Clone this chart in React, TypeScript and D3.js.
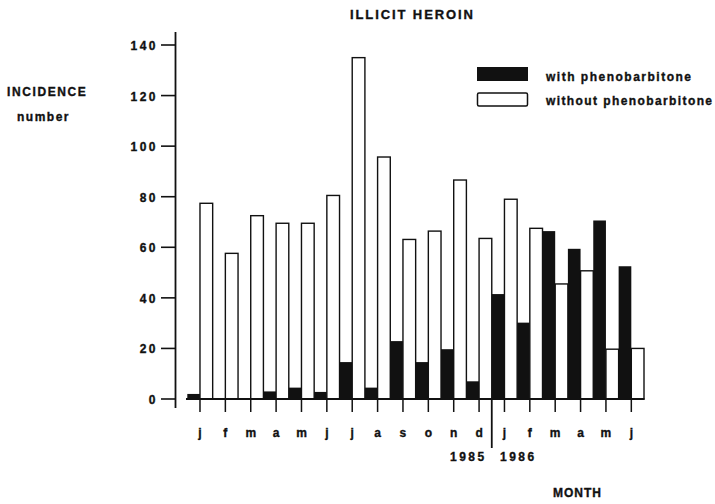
import React from "react";
import * as d3 from "d3";

// Monthly incidence, Jan 1985 – Jun 1986
const months = ["j", "f", "m", "a", "m", "j", "j", "a", "s", "o", "n", "d", "j", "f", "m", "a", "m", "j"];
const withPheno = [2, 0, 0, 3, 4.5, 2.8, 14.6, 4.5, 22.9, 14.6, 19.7, 7, 41.5, 30.2, 66.4, 59.4, 70.6, 52.5];
const withoutPheno = [77.4, 57.6, 72.5, 69.5, 69.5, 80.5, 135, 95.7, 63.1, 66.4, 86.6, 63.5, 79, 67.5, 45.5, 50.7, 19.7, 20];
const yTicks = [0, 20, 40, 60, 80, 100, 120, 140];
const years = ["1985", "1986"];

const W = 715;
const H = 504;
const FONT = "'Liberation Sans', Arial, Helvetica, sans-serif";
const INK = "#111";

export default function App() {
  const idx = months.map((_, i) => i);
  const x = d3.scaleBand<number>().domain(idx).range([187.3, 644]).padding(0);
  const y = d3.scaleLinear().domain([0, 140]).range([399, 45]);
  const bw = x.bandwidth();
  const half = bw / 2;
  const axisX = 175.5;
  const baseY = y(0);
  const yearSplit = x(12)!;

  const textStyle = { stroke: INK, strokeWidth: 0.35 } as const;

  return (
    <svg
      width={W}
      height={H}
      style={{ position: "absolute", left: 0, top: 0, background: "#fff" }}
      fontFamily={FONT}
      fontWeight="bold"
      fill={INK}
    >
      <rect x={0} y={0} width={W} height={H} fill="#fff" />

      <g {...textStyle}>
        {/* title */}
        <text x={350} y={18.5} fontSize={13} letterSpacing={1.9}>
          ILLICIT HEROIN
        </text>

        {/* y axis label */}
        <text x={7} y={96} fontSize={12} letterSpacing={1.6}>
          INCIDENCE
        </text>
        <text x={17} y={121} fontSize={12} letterSpacing={1.5}>
          number
        </text>
      </g>

      {/* bars: black half left of the tick, open half right */}
      {idx.map((i) => {
        const cx = x(i)! + half;
        return (
          <g key={i}>
            {withPheno[i] > 0 && (
              <rect
                x={x(i)!}
                y={y(withPheno[i])}
                width={half}
                height={baseY - y(withPheno[i])}
                fill={INK}
              />
            )}
            <rect
              x={cx}
              y={y(withoutPheno[i])}
              width={half}
              height={baseY - y(withoutPheno[i])}
              fill="#fff"
              stroke={INK}
              strokeWidth={1.4}
            />
          </g>
        );
      })}

      {/* y axis */}
      <line x1={axisX} x2={axisX} y1={32} y2={408} stroke={INK} strokeWidth={1.8} />
      {yTicks.map((t) => (
        <g key={t}>
          <line x1={161} x2={axisX} y1={y(t)} y2={y(t)} stroke={INK} strokeWidth={1.6} />
          <text x={158} y={y(t) + 5} fontSize={12} letterSpacing={2.5} textAnchor="end" {...textStyle}>
            {t}
          </text>
        </g>
      ))}

      {/* x axis */}
      <line x1={186} x2={644.5} y1={baseY} y2={baseY} stroke={INK} strokeWidth={1.8} />
      {idx.map((i) => {
        const cx = x(i)! + half;
        return (
          <g key={i}>
            <line x1={cx} x2={cx} y1={baseY} y2={412} stroke={INK} strokeWidth={1.5} />
            <text x={cx} y={437} fontSize={12} textAnchor="middle" {...textStyle}>
              {months[i]}
            </text>
          </g>
        );
      })}
      <line x1={yearSplit} x2={yearSplit} y1={baseY} y2={448} stroke={INK} strokeWidth={1.8} />
      <g {...textStyle}>
        <text x={450} y={461} fontSize={12} letterSpacing={2.5}>
          {years[0]}
        </text>
        <text x={500} y={461} fontSize={12} letterSpacing={2.5}>
          {years[1]}
        </text>
        <text x={553} y={497} fontSize={12} letterSpacing={1}>
          MONTH
        </text>
      </g>

      {/* legend */}
      <rect x={477} y={67} width={51} height={14} fill={INK} />
      <rect x={477.5} y={93} width={50} height={13} fill="#fff" stroke={INK} strokeWidth={1.5} rx={1.5} />
      <g {...textStyle}>
        <text x={546} y={81} fontSize={12} letterSpacing={1.5}>
          with phenobarbitone
        </text>
        <text x={546} y={104.5} fontSize={12} letterSpacing={1.4}>
          without phenobarbitone
        </text>
      </g>
    </svg>
  );
}
